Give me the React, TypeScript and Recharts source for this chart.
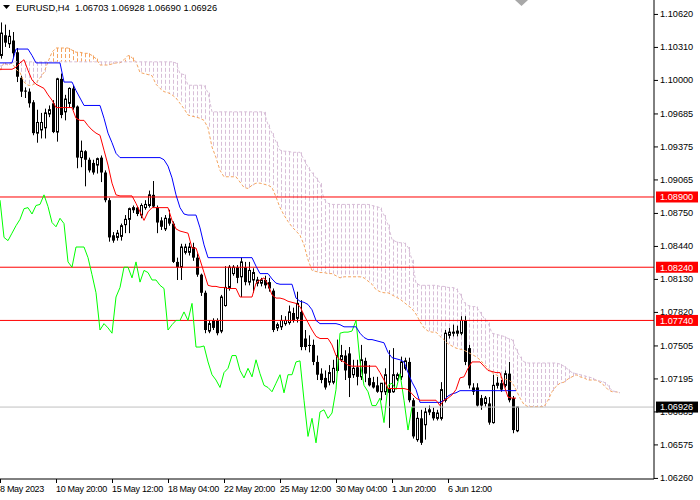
import React from 'react';
import { ComposedChart, Bar, Line, XAxis, YAxis, ReferenceLine } from 'recharts';

// ---- Data (EURUSD H4) ----
const opens = [
  1.1023, 1.1042, 1.1034, 1.1037, 1.1026, 1.1002, 1.0990, 1.0989, 1.0979, 1.0950,
  1.0953, 1.0955, 1.0968, 1.0978, 1.0951, 1.1001, 1.0970, 1.0978, 1.0992, 1.0975,
  1.0927, 1.0933, 1.0925, 1.0922, 1.0920, 1.0927, 1.0913, 1.0887, 1.0854, 1.0852,
  1.0853, 1.0864, 1.0869, 1.0878, 1.0880, 1.0873, 1.0880, 1.0882, 1.0892, 1.0880,
  1.0868, 1.0860, 1.0870, 1.0865, 1.0829, 1.0824, 1.0838, 1.0838, 1.0843, 1.0833,
  1.0817, 1.0800, 1.0764, 1.0774, 1.0774, 1.0764, 1.0788, 1.0805, 1.0818, 1.0824,
  1.0815, 1.0824, 1.0810, 1.0812, 1.0809, 1.0809, 1.0812, 1.0810, 1.0802, 1.0767,
  1.0768, 1.0771, 1.0772, 1.0781, 1.0776, 1.0782, 1.0757, 1.0751, 1.0751, 1.0735,
  1.0724, 1.0720, 1.0716, 1.0716, 1.0727, 1.0737, 1.0741, 1.0743, 1.0723, 1.0730,
  1.0721, 1.0736, 1.0720, 1.0716, 1.0713, 1.0707, 1.0707, 1.0710, 1.0707, 1.0719,
  1.0721, 1.0729, 1.0735, 1.0699, 1.0662, 1.0682, 1.0676, 1.0688, 1.0688, 1.0682,
  1.0682, 1.0699, 1.0760, 1.0762, 1.0762, 1.0762, 1.0774, 1.0748, 1.0711, 1.0711,
  1.0701, 1.0696, 1.0696, 1.0678, 1.0713, 1.0715, 1.0713, 1.0724, 1.0701, 1.06703,
];
const highs = [
  1.1054, 1.1052, 1.1047, 1.1045, 1.1030, 1.1004, 1.0993, 1.0992, 1.0981, 1.0972,
  1.0969, 1.0973, 1.0976, 1.0981, 1.1002, 1.1006, 1.0986, 1.0993, 1.0995, 1.0976,
  1.0943, 1.0934, 1.0927, 1.0925, 1.0927, 1.0929, 1.0915, 1.0889, 1.0857, 1.0859,
  1.0865, 1.0873, 1.0880, 1.0882, 1.0881, 1.0884, 1.0887, 1.0896, 1.0905, 1.0882,
  1.0871, 1.0873, 1.0878, 1.0867, 1.0833, 1.0846, 1.0846, 1.0847, 1.0847, 1.0837,
  1.0818, 1.0802, 1.0774, 1.0776, 1.0776, 1.0798, 1.0825, 1.0826, 1.0826, 1.0826,
  1.0833, 1.0829, 1.0829, 1.0823, 1.0815, 1.0814, 1.0816, 1.0814, 1.0804, 1.0772,
  1.0779, 1.0778, 1.0788, 1.0786, 1.0801, 1.0793, 1.0765, 1.0760, 1.0756, 1.0741,
  1.0729, 1.0727, 1.0732, 1.0737, 1.0756, 1.0751, 1.0746, 1.0749, 1.0737, 1.0737,
  1.0751, 1.0739, 1.0732, 1.0721, 1.0721, 1.0715, 1.0729, 1.0746, 1.0748, 1.0725,
  1.0740, 1.0739, 1.0739, 1.0701, 1.0688, 1.0690, 1.0692, 1.0694, 1.0692, 1.0690,
  1.0716, 1.0765, 1.0767, 1.0770, 1.0769, 1.0778, 1.0778, 1.0751, 1.0715, 1.0715,
  1.0704, 1.0703, 1.0702, 1.0723, 1.0721, 1.0718, 1.0727, 1.0735, 1.0703, 1.06928,
];
const lows = [
  1.1020, 1.1031, 1.1030, 1.1021, 1.0998, 1.0984, 1.0983, 1.0974, 1.0948, 1.0941,
  1.0945, 1.0945, 1.0965, 1.0950, 1.0942, 1.0964, 1.0962, 1.0974, 1.0972, 1.0917,
  1.0918, 1.0900, 1.0913, 1.0911, 1.0912, 1.0904, 1.0885, 1.0848, 1.0847, 1.0849,
  1.0849, 1.0856, 1.0856, 1.0875, 1.0872, 1.0870, 1.0878, 1.0880, 1.0880, 1.0856,
  1.0859, 1.0858, 1.0863, 1.0828, 1.0812, 1.0812, 1.0836, 1.0835, 1.0830, 1.0815,
  1.0797, 1.0762, 1.0762, 1.0765, 1.0760, 1.0762, 1.0787, 1.0802, 1.0816, 1.0809,
  1.0796, 1.0807, 1.0807, 1.0800, 1.0806, 1.0806, 1.0804, 1.0801, 1.0763, 1.0764,
  1.0765, 1.0769, 1.0770, 1.0772, 1.0772, 1.0746, 1.0746, 1.0744, 1.0732, 1.0718,
  1.0715, 1.0709, 1.0713, 1.0714, 1.0725, 1.0735, 1.0718, 1.0702, 1.0720, 1.0713,
  1.0718, 1.0716, 1.0712, 1.0710, 1.0706, 1.0699, 1.0704, 1.0673, 1.0706, 1.0717,
  1.0718, 1.0727, 1.0697, 1.0663, 1.0660, 1.0657, 1.0662, 1.0685, 1.0680, 1.0680,
  1.0680, 1.0697, 1.0757, 1.0759, 1.0759, 1.0760, 1.0732, 1.0710, 1.0704, 1.0693,
  1.0690, 1.0693, 1.0676, 1.0677, 1.0710, 1.0707, 1.0711, 1.0697, 1.0668, 1.06690,
];
const closes = [
  1.1044, 1.1035, 1.1041, 1.1025, 1.1003, 1.0989, 1.0989, 1.0978, 1.0950, 1.0960,
  1.0960, 1.0969, 1.0972, 1.0951, 1.1001, 1.0967, 1.0982, 1.0992, 1.0974, 1.0927,
  1.0933, 1.0925, 1.0915, 1.0913, 1.0926, 1.0913, 1.0887, 1.0852, 1.0849, 1.0856,
  1.0863, 1.0869, 1.0879, 1.0880, 1.0874, 1.0882, 1.0883, 1.0892, 1.0881, 1.0866,
  1.0862, 1.0870, 1.0865, 1.0829, 1.0824, 1.0843, 1.0843, 1.0843, 1.0833, 1.0817,
  1.0800, 1.0765, 1.0771, 1.0767, 1.0762, 1.0796, 1.0805, 1.0824, 1.0824, 1.0814,
  1.0829, 1.0810, 1.0821, 1.0819, 1.0812, 1.0812, 1.0807, 1.0804, 1.0765, 1.0770,
  1.0774, 1.0774, 1.0782, 1.0774, 1.0790, 1.0749, 1.0749, 1.0750, 1.0735, 1.0723,
  1.0718, 1.0711, 1.0725, 1.0729, 1.0741, 1.0741, 1.0727, 1.0720, 1.0729, 1.0721,
  1.0737, 1.0724, 1.0713, 1.0711, 1.0707, 1.0715, 1.0723, 1.0706, 1.0723, 1.0723,
  1.0735, 1.0736, 1.0699, 1.0665, 1.0682, 1.0659, 1.0688, 1.0690, 1.0682, 1.0687,
  1.0709, 1.0762, 1.0763, 1.0763, 1.0764, 1.0774, 1.0735, 1.0713, 1.0707, 1.0694,
  1.0694, 1.0701, 1.0678, 1.0713, 1.0715, 1.0709, 1.0724, 1.0699, 1.0671, 1.06926,
];

// Ichimoku lines
const tenkan = [
  1.1010, 1.1010, 1.1010, 1.1010, 1.1012, 1.1016, 1.1019, 1.1009, 1.1000, 1.0996,
  1.0994, 1.0992, 1.0986, 1.0981, 1.0974, 1.0974, 1.0974, 1.0974, 1.0974, 1.0964,
  1.0962, 1.0962, 1.0957, 1.0953, 1.0950, 1.0948, 1.0934, 1.0920, 1.0903, 1.0892,
  1.0891, 1.0891, 1.0891, 1.0891, 1.0884, 1.0876, 1.0868, 1.0876, 1.0880, 1.0880,
  1.0880, 1.0880, 1.0880, 1.0868, 1.0860, 1.0858, 1.0857, 1.0856, 1.0842, 1.0842,
  1.0831, 1.0819, 1.0807, 1.0806, 1.0806, 1.0805, 1.0805, 1.0804, 1.0804, 1.0804,
  1.0796, 1.0796, 1.0796, 1.0796, 1.0809, 1.0812, 1.0814, 1.0808, 1.0798, 1.0795,
  1.0795, 1.0794, 1.0792, 1.0791, 1.0790, 1.0787, 1.0779, 1.0772, 1.0765, 1.0759,
  1.0757, 1.0757, 1.0757, 1.0751, 1.0741, 1.0737, 1.0735, 1.0732, 1.0731, 1.0731,
  1.0731, 1.0731, 1.0731, 1.0731, 1.0731, 1.0725, 1.0718, 1.0710, 1.0710, 1.0710,
  1.0710, 1.0710, 1.0709, 1.0705, 1.0701, 1.0699, 1.0699, 1.0699, 1.0699, 1.0699,
  1.0694, 1.0699, 1.0701, 1.0704, 1.0709, 1.0720, 1.0721, 1.0729, 1.0735, 1.0735,
  1.0735, 1.0731, 1.0727, 1.0726, 1.0725, 1.0725, 1.0713, 1.0702, 1.0701, 1.0701,
];
const kijun = [
  1.1016, 1.1016, 1.1016, 1.1016, 1.1029, 1.1029, 1.1029, 1.1029, 1.1023, 1.1016,
  1.1016, 1.1016, 1.1016, 1.1016, 1.1016, 1.1016, 1.0998, 1.0998, 1.0998, 1.0990,
  1.0983, 1.0976, 1.0976, 1.0976, 1.0976, 1.0976, 1.0964, 1.0950, 1.0941, 1.0931,
  1.0927, 1.0927, 1.0927, 1.0927, 1.0927, 1.0927, 1.0927, 1.0927, 1.0927, 1.0927,
  1.0927, 1.0925, 1.0919, 1.0908, 1.0892, 1.0880, 1.0874, 1.0873, 1.0873, 1.0873,
  1.0861, 1.0845, 1.0833, 1.0833, 1.0833, 1.0833, 1.0833, 1.0833, 1.0833, 1.0833,
  1.0833, 1.0833, 1.0833, 1.0833, 1.0825, 1.0818, 1.0818, 1.0818, 1.0813, 1.0809,
  1.0808, 1.0808, 1.0808, 1.0808, 1.0795, 1.0792, 1.0791, 1.0789, 1.0784, 1.0774,
  1.0771, 1.0771, 1.0771, 1.0771, 1.0771, 1.0770, 1.0768, 1.0768, 1.0768, 1.0768,
  1.0762, 1.0758, 1.0756, 1.0756, 1.0755, 1.0754, 1.0753, 1.0744, 1.0739, 1.0738,
  1.0737, 1.0735, 1.0725, 1.0716, 1.0709, 1.0697, 1.0697, 1.0697, 1.0697, 1.0697,
  1.0697, 1.0699, 1.0703, 1.0705, 1.0706, 1.0708, 1.0708, 1.0708, 1.0708, 1.0708,
  1.0708, 1.0708, 1.0708, 1.0708, 1.0708, 1.0708, 1.0708, 1.0708, 1.0708, 1.0708,
];
const senkouA = [
  1.1009, 1.1016, 1.1014, 1.1016, 1.1010, 1.1007, 1.0998, 1.0995, 1.0995, 1.0997,
  1.1002, 1.1007, 1.1017, 1.1026, 1.1030, 1.1030, 1.1030, 1.1030, 1.1028, 1.1026,
  1.1026, 1.1025, 1.1025, 1.1023, 1.1020, 1.1014, 1.1014, 1.1014, 1.1015, 1.1016,
  1.1016, 1.1019, 1.1023, 1.1021, 1.1017, 1.1007, 1.1006, 1.1005, 1.1004, 1.0996,
  1.0992, 1.0989, 1.0988, 1.0986, 1.0983, 1.0978, 1.0973, 1.0967, 1.0966, 1.0965,
  1.0964, 1.0962, 1.0955, 1.0937, 1.0927, 1.0915, 1.0909, 1.0909, 1.0909, 1.0909,
  1.0904, 1.0899, 1.0898, 1.0901, 1.0903, 1.0903, 1.0902, 1.0901, 1.0899, 1.0890,
  1.0880, 1.0873, 1.0867, 1.0862, 1.0858, 1.0854, 1.0845, 1.0831, 1.0821, 1.0820,
  1.0819, 1.0819, 1.0818, 1.0818, 1.0816, 1.0814, 1.0815, 1.0815, 1.0815, 1.0815,
  1.0815, 1.0814, 1.0811, 1.0808, 1.0803, 1.0801, 1.0800, 1.0800, 1.0798, 1.0796,
  1.0794, 1.0791, 1.0788, 1.0785, 1.0780, 1.0773, 1.0767, 1.0764, 1.0763, 1.0763,
  1.0759, 1.0756, 1.0752, 1.0750, 1.0748, 1.0747, 1.0746, 1.0744, 1.0742, 1.0740,
  1.0737, 1.0733, 1.0729, 1.0725, 1.0723, 1.0721, 1.0719, 1.0718, 1.0716, 1.0709,
  1.0701, 1.0695, 1.0693, 1.0693, 1.0693, 1.0693, 1.0693, 1.0699, 1.0707, 1.0712,
  1.0715, 1.0716, 1.0719, 1.0721, 1.0723, 1.0721, 1.0720, 1.0718, 1.0718, 1.0718,
  1.0716, 1.0713, 1.0709, 1.0707, 1.0707, 1.0706,
];
const senkouB = [
  1.1013, 1.1014, 1.1015, 1.1017, 1.1017, 1.1017, 1.1017, 1.1017, 1.1017, 1.1017,
  1.1017, 1.1017, 1.1017, 1.1017, 1.1017, 1.1017, 1.1017, 1.1017, 1.1017, 1.1017,
  1.1017, 1.1017, 1.1017, 1.1017, 1.1017, 1.1017, 1.1017, 1.1017, 1.1017, 1.1017,
  1.1017, 1.1017, 1.1017, 1.1017, 1.1017, 1.1017, 1.1017, 1.1017, 1.1017, 1.1017,
  1.1017, 1.1017, 1.1017, 1.1017, 1.1016, 1.1006, 1.1005, 1.0995, 1.0995, 1.0995,
  1.0995, 1.0995, 1.0988, 1.0970, 1.0970, 1.0970, 1.0970, 1.0970, 1.0970, 1.0970,
  1.0970, 1.0970, 1.0970, 1.0970, 1.0970, 1.0970, 1.0970, 1.0958, 1.0950, 1.0942,
  1.0934, 1.0933, 1.0933, 1.0932, 1.0932, 1.0932, 1.0925, 1.0918, 1.0913, 1.0908,
  1.0903, 1.0888, 1.0884, 1.0883, 1.0883, 1.0883, 1.0883, 1.0883, 1.0883, 1.0883,
  1.0883, 1.0883, 1.0883, 1.0882, 1.0881, 1.0880, 1.0873, 1.0864, 1.0850, 1.0848,
  1.0847, 1.0847, 1.0843, 1.0831, 1.0809, 1.0807, 1.0807, 1.0807, 1.0807, 1.0807,
  1.0806, 1.0806, 1.0805, 1.0805, 1.0804, 1.0799, 1.0791, 1.0788, 1.0787, 1.0787,
  1.0782, 1.0776, 1.0772, 1.0762, 1.0761, 1.0760, 1.0759, 1.0757, 1.0756, 1.0747,
  1.0740, 1.0735, 1.0734, 1.0734, 1.0734, 1.0734, 1.0734, 1.0734, 1.0734, 1.0734,
  1.0733, 1.0731, 1.0728, 1.0725, 1.0724, 1.0723, 1.0722, 1.0721, 1.0720, 1.0718,
  1.0717, 1.0716, 1.0713, 1.0708, 1.0707, 1.0706,
];

const CHIKOU_SHIFT = 26;
const SLOT_COUNT = 164;

const timeTickSlots = [0, 14, 28, 42, 56, 70, 84, 98, 112];
const timeTickLabels = [
  '8 May 2023', '10 May 20:00', '15 May 12:00', '18 May 04:00', '22 May 20:00',
  '25 May 12:00', '30 May 04:00', '1 Jun 20:00', '6 Jun 12:00',
];
const priceTicks = [
  1.1062, 1.1031, 1.1, 1.09685, 1.09375, 1.09065, 1.0875, 1.0844, 1.0813,
  1.0782, 1.07505, 1.07195, 1.06885, 1.06575, 1.0626,
];
const levelPrices = [1.089, 1.0824, 1.0774];
const currentPrice = 1.06926;
const Y_MIN = 1.0625;
const Y_MAX = 1.10751;

const TITLE = 'EURUSD,H4  1.06703 1.06928 1.06690 1.06926';

const RED = '#FF0000';
const BLUE = '#0000FF';
const LIME = '#00FF00';
const SANDY = '#F4A460';
const THISTLE = '#D8BFD8';
const FONT = '"Liberation Sans", Arial, sans-serif';

const rows = Array.from({ length: SLOT_COUNT }, (_, i) => {
  const has = i < closes.length;
  const a = i < senkouA.length ? senkouA[i] : null;
  const b = i < senkouB.length ? senkouB[i] : null;
  return {
    i,
    o: has ? opens[i] : null,
    h: has ? highs[i] : null,
    l: has ? lows[i] : null,
    c: has ? closes[i] : null,
    candle: has ? [lows[i], highs[i]] : null,
    tenkan: i < tenkan.length ? tenkan[i] : null,
    kijun: i < kijun.length ? kijun[i] : null,
    chikou: i + CHIKOU_SHIFT < closes.length ? closes[i + CHIKOU_SHIFT] : null,
    spanA: a,
    spanB: b,
    cloud: a != null && b != null && a !== b ? [Math.min(a, b), Math.max(a, b)] : null,
  };
});

const CandleShape = (props: any) => {
  const { x, y, width, height, payload } = props;
  if (!payload || payload.o == null || !isFinite(y) || !isFinite(height)) return null;
  const top = Math.min(y, y + height);
  const h = Math.abs(height);
  const span = payload.h - payload.l;
  const py = (v: number) => (span > 0 ? top + ((payload.h - v) / span) * h : top);
  const cx = Math.round(x + width / 2);
  const yo = py(payload.o);
  const yc = py(payload.c);
  const bt = Math.min(yo, yc);
  const bh = Math.max(Math.abs(yc - yo), 1);
  const bull = payload.c >= payload.o;
  return (
    <g>
      <line x1={cx + 0.5} x2={cx + 0.5} y1={top} y2={top + h} stroke="#000" strokeWidth={1} />
      {bull ? (
        <rect x={cx - 0.5} y={bt} width={2} height={bh} fill="#fff" stroke="#000" strokeWidth={1} />
      ) : (
        <rect x={cx - 1} y={bt} width={3} height={bh} fill="#000" />
      )}
    </g>
  );
};

const CloudShape = (props: any) => {
  const { x, y, width, height, payload } = props;
  if (!payload || payload.cloud == null || !isFinite(y) || !isFinite(height)) return null;
  const top = Math.min(y, y + height);
  const h = Math.abs(height);
  const cx = Math.round(x + width / 2);
  const color = payload.spanA > payload.spanB ? SANDY : THISTLE;
  return (
    <line x1={cx + 0.5} x2={cx + 0.5} y1={top} y2={top + h} stroke={color} strokeWidth={1} strokeDasharray="4 2" />
  );
};

const TimeTick = (props: any) => {
  const { x, y, payload } = props;
  const idx = timeTickSlots.indexOf(payload.value);
  if (idx < 0) return null;
  return (
    <g>
      <line x1={x + 0.5} x2={x + 0.5} y1={y} y2={y + 4} stroke="#000" strokeWidth={1} />
      <text x={x} y={y + 13} fontSize={9} fontFamily={FONT} fill="#000" letterSpacing={-0.3}>
        {timeTickLabels[idx]}
      </text>
    </g>
  );
};

const PriceTick = (props: any) => {
  const { x, y, payload } = props;
  const v = payload.value as number;
  const isLevel = levelPrices.includes(v);
  const isCurrent = v === currentPrice;
  if (isLevel || isCurrent) {
    return (
      <g>
        <rect x={x + 2} y={y - 5.5} width={42} height={11} fill={isCurrent ? '#000' : RED} />
        <text x={x + 6} y={y + 3.4} fontSize={9.2} fontFamily={FONT} fill="#fff">
          {v.toFixed(5)}
        </text>
      </g>
    );
  }
  return (
    <g>
      <line x1={x} x2={x + 4} y1={y + 0.5} y2={y + 0.5} stroke="#000" strokeWidth={1} />
      <text x={x + 6} y={y + 3.4} fontSize={9.2} fontFamily={FONT} fill="#000">
        {v.toFixed(5)}
      </text>
    </g>
  );
};

const allPriceTicks = [...priceTicks, ...levelPrices, currentPrice];

export default function App() {
  return (
    <div style={{ position: 'absolute', left: 0, top: 0, width: 700, height: 500, overflow: 'hidden', background: '#fff' }}>
      <div style={{ position: 'absolute', left: -2, top: 0 }}>
        <ComposedChart width={702} height={500} data={rows} margin={{ top: 0, right: 0, bottom: 0, left: 0 }}>
          <XAxis
            dataKey="i"
            type="category"
            ticks={timeTickSlots}
            interval={0}
            tick={<TimeTick />}
            tickLine={false}
            tickSize={0}
            tickMargin={0}
            axisLine={{ stroke: '#000' }}
            height={21}
          />
          <XAxis xAxisId="cloud" dataKey="i" type="category" hide />
          <YAxis
            orientation="right"
            type="number"
            width={46}
            domain={[Y_MIN, Y_MAX]}
            allowDataOverflow
            ticks={allPriceTicks}
            interval={0}
            tick={<PriceTick />}
            tickLine={false}
            tickSize={0}
            tickMargin={0}
            axisLine={{ stroke: '#000' }}
          />
          <Bar xAxisId="cloud" dataKey="cloud" barSize={1} shape={CloudShape} isAnimationActive={false} />
          <Line dataKey="spanA" stroke={SANDY} strokeWidth={1} strokeDasharray="3 2" dot={false} activeDot={false} isAnimationActive={false} type="linear" />
          <Line dataKey="spanB" stroke={THISTLE} strokeWidth={1} strokeDasharray="3 2" dot={false} activeDot={false} isAnimationActive={false} type="linear" />
          <ReferenceLine y={currentPrice} stroke="#C0C0C0" strokeWidth={1} />
          {levelPrices.map((p) => (
            <ReferenceLine key={p} y={p} stroke={RED} strokeWidth={1} />
          ))}
          <Line dataKey="chikou" stroke={LIME} strokeWidth={1} dot={false} activeDot={false} isAnimationActive={false} type="linear" />
          <Bar dataKey="candle" barSize={3} shape={CandleShape} isAnimationActive={false} />
          <Line dataKey="kijun" stroke={BLUE} strokeWidth={1} dot={false} activeDot={false} isAnimationActive={false} type="linear" />
          <Line dataKey="tenkan" stroke={RED} strokeWidth={1} dot={false} activeDot={false} isAnimationActive={false} type="linear" />
        </ComposedChart>
      </div>
      <svg width={700} height={500} style={{ position: 'absolute', left: 0, top: 0, pointerEvents: 'none' }}>
        <polygon points="3,5 10,5 6.5,9" fill="#000" />
        <text x={16} y={10.5} fontSize={9.3} fontFamily={FONT} fill="#000" style={{ whiteSpace: 'pre' }}>
          {TITLE}
        </text>
        <polygon points="515,0 521.5,-6 528,0 521.5,6" fill="#A8A8A8" />
      </svg>
    </div>
  );
}
